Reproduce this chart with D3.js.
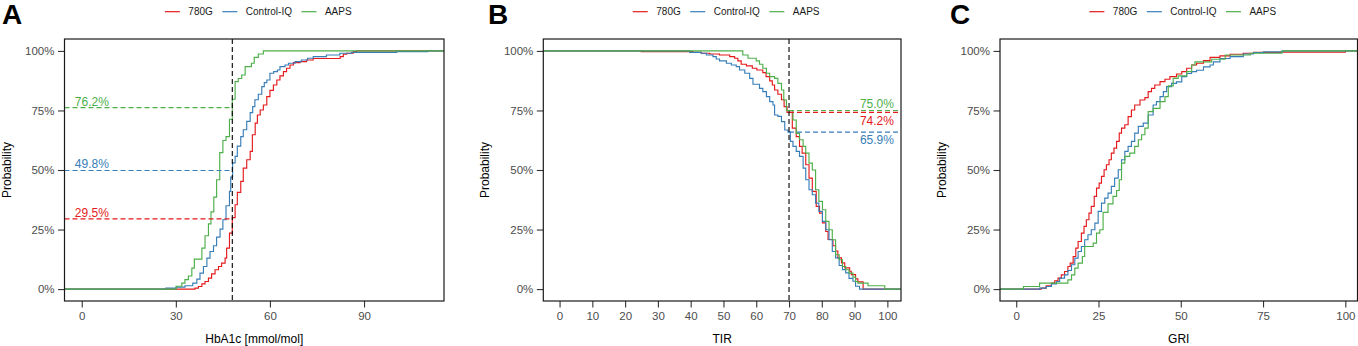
<!DOCTYPE html>
<html><head><meta charset="utf-8">
<script src="https://cdn.jsdelivr.net/npm/d3@7"></script>
<style>body{margin:0;background:#fff}svg{display:block}text{font-family:"Liberation Sans",Arial,sans-serif}</style>
</head><body><svg id="c" width="1358" height="346"></svg>
<script>
// ---------- data ----------
const groups = ["780G", "Control-IQ", "AAPS"];
const groupColors = ["#E41A1C", "#377EB8", "#4DAF4A"];

// Panel A: ECDF of HbA1c [mmol/mol]  ([x, cumulative probability])
const hba1c_780G = [[36.1,0.004],[37.2,0.011],[38.3,0.022],[39.3,0.032],[40.4,0.046],[41.4,0.064],[42.5,0.081],[43.6,0.095],[44.6,0.109],[45.7,0.13],[46.2,0.172],[47.1,0.235],[48,0.3],[48.9,0.354],[49.6,0.406],[50.7,0.452],[51.5,0.508],[52.6,0.543],[53.7,0.578],[54.4,0.648],[55.3,0.697],[56,0.731],[56.9,0.752],[57.9,0.773],[59,0.808],[60,0.834],[61.1,0.857],[62.2,0.878],[63.2,0.895],[64.3,0.913],[65.3,0.927],[66.4,0.941],[67.5,0.951],[69.6,0.955],[71.7,0.962],[73.8,0.968],[82.4,0.976],[83.4,0.986],[84.5,0.99],[86.6,0.997],[87.7,1.0]];
const hba1c_CIQ = [[26.8,0.004],[30.1,0.008],[32.9,0.014],[35.4,0.025],[36.7,0.042],[37.7,0.067],[38.8,0.095],[39.9,0.13],[40.9,0.158],[42,0.182],[43,0.218],[44.1,0.252],[45,0.291],[46,0.35],[47.1,0.41],[47.5,0.47],[48.1,0.53],[48.9,0.557],[49.6,0.6],[50.7,0.64],[51.5,0.669],[52.6,0.704],[53.7,0.741],[54.5,0.766],[55.2,0.795],[56.3,0.818],[57.4,0.85],[58.2,0.867],[59,0.878],[60,0.906],[61.2,0.913],[62.4,0.92],[63.2,0.934],[64.8,0.941],[65.9,0.948],[68,0.955],[70,0.962],[72,0.969],[73.8,0.976],[78,0.983],[82.3,0.99],[86,0.994],[100.4,0.997],[110.3,1.0]];
const hba1c_AAPS = [[30.1,0.012],[31.9,0.025],[32.9,0.04],[34,0.055],[35.1,0.088],[35.9,0.126],[38.3,0.172],[39.3,0.224],[40.4,0.274],[41.2,0.324],[42.1,0.386],[43,0.459],[44,0.573],[45,0.624],[46,0.64],[47.1,0.713],[48,0.797],[48.9,0.871],[49.9,0.884],[51,0.899],[52.1,0.934],[54.1,0.948],[55,0.973],[56.3,0.987],[57.9,1.0]];
const hba1c_cut = 48;
const hba1c_cutValues = [0.295, 0.498, 0.762];
const hba1c_cutLabels = ["29.5%", "49.8%", "76.2%"];

// Panel B: 1 - ECDF of TIR ([x, probability of TIR >= x])
const tir_780G = [[24.9,0.997],[40.7,0.994],[43.2,0.99],[45.8,0.987],[48.8,0.983],[51.9,0.976],[53.4,0.969],[54.4,0.958],[55.4,0.944],[57,0.937],[58.8,0.927],[60.2,0.92],[62,0.909],[63,0.892],[64.1,0.874],[64.9,0.857],[65.6,0.836],[66.6,0.818],[67.7,0.795],[68.5,0.766],[69.4,0.742],[71,0.676],[72.2,0.64],[73.2,0.599],[74,0.571],[75.1,0.522],[76.1,0.466],[77.1,0.41],[78.3,0.347],[79.3,0.319],[80.2,0.278],[81.2,0.242],[81.9,0.208],[83.4,0.182],[84.2,0.16],[84.9,0.131],[86,0.11],[87,0.089],[88.5,0.075],[89,0.061],[90.3,0.043],[91,0.03],[92.6,0]];
const tir_CIQ = [[39.7,0.994],[43.2,0.99],[44.8,0.983],[46.8,0.976],[47.8,0.966],[48.8,0.958],[50.9,0.948],[52.4,0.941],[53.9,0.934],[54.9,0.92],[56.5,0.906],[58,0.885],[59,0.86],[61,0.843],[62,0.829],[63.1,0.808],[64.1,0.787],[65.1,0.773],[65.6,0.731],[66.6,0.725],[67.7,0.703],[68.7,0.668],[69.7,0.659],[70.4,0.62],[71.2,0.599],[72.2,0.578],[73.2,0.557],[74.3,0.508],[75.1,0.459],[76.1,0.417],[77.1,0.396],[78.1,0.361],[79.1,0.326],[80.2,0.284],[81.2,0.249],[82.2,0.207],[83.2,0.158],[84.2,0.131],[85.3,0.099],[86.3,0.082],[87.3,0.068],[88.3,0.045],[89.5,0.033],[90.3,0.012],[91.5,0]];
const tir_AAPS = [[55.9,0.983],[57.5,0.969],[60,0.958],[61,0.944],[62,0.927],[63.1,0.906],[64.1,0.892],[65.6,0.885],[66.6,0.864],[67.7,0.836],[68.4,0.794],[69.2,0.75],[71.2,0.71],[72.2,0.654],[73.2,0.627],[74.3,0.599],[75.1,0.571],[76.1,0.529],[77.1,0.5],[78.1,0.417],[79.1,0.368],[80.2,0.333],[81.2,0.284],[82.2,0.249],[83.2,0.207],[84.2,0.144],[85.3,0.123],[86.3,0.095],[87.3,0.081],[88.3,0.067],[89.5,0.05],[90.3,0.032],[91,0.025],[94.1,0.014],[99.2,0]];
const tir_cut = 70;
const tir_cutValues = [0.742, 0.659, 0.750];
const tir_cutLabels = ["74.2%", "65.9%", "75.0%"];

// Panel C: ECDF of GRI
const gri_780G = [[7.6,0.004],[9.1,0.014],[10.7,0.025],[11.7,0.035],[12.7,0.046],[13.7,0.06],[14.7,0.074],[15.7,0.095],[16.4,0.109],[17.3,0.137],[18.1,0.172],[18.8,0.2],[19.8,0.235],[20.6,0.263],[21.3,0.291],[22.1,0.319],[22.8,0.347],[23.7,0.389],[24.4,0.424],[25.2,0.445],[25.9,0.473],[26.7,0.501],[27.4,0.522],[28.2,0.543],[28.9,0.571],[29.7,0.592],[30.5,0.62],[31.3,0.655],[32,0.676],[33,0.69],[34,0.724],[35,0.752],[36,0.773],[37.6,0.794],[39.1,0.804],[40.1,0.829],[41.1,0.843],[42.1,0.857],[43.7,0.871],[45.2,0.881],[46.7,0.892],[48.7,0.903],[50.3,0.913],[51.8,0.927],[53.3,0.941],[54.8,0.948],[56.9,0.959],[58.9,0.973],[61.9,0.979],[65,0.986],[69,0.99],[72.1,0.994],[80.2,0.995],[100,1.0]];
const gri_CIQ = [[7.1,0.004],[9.1,0.011],[10.7,0.022],[12.2,0.032],[13.2,0.046],[14.7,0.06],[15.7,0.078],[16.8,0.102],[17.8,0.13],[18.8,0.158],[19.8,0.179],[20.8,0.207],[21.8,0.228],[22.8,0.249],[23.9,0.277],[24.9,0.326],[25.9,0.361],[26.9,0.382],[27.9,0.403],[28.9,0.431],[29.9,0.466],[31,0.501],[32,0.543],[33,0.578],[34,0.599],[35,0.62],[36,0.655],[37.1,0.683],[38.6,0.697],[40.1,0.731],[41.6,0.773],[42.6,0.787],[43.7,0.808],[44.7,0.829],[45.7,0.85],[47.2,0.864],[48.7,0.87],[50.3,0.892],[51.8,0.905],[53.3,0.913],[54.8,0.919],[56.9,0.933],[58.9,0.941],[59.9,0.954],[61.9,0.968],[65,0.976],[69,0.987],[72.1,0.993],[75.1,0.996],[81,1.0]];
const gri_AAPS = [[2.2,0.011],[7.1,0.025],[15.7,0.039],[16.8,0.06],[17.8,0.088],[18.8,0.109],[20.1,0.137],[20.8,0.179],[23.4,0.193],[24.4,0.235],[25.4,0.249],[26.4,0.322],[27.9,0.358],[29.4,0.389],[30.5,0.414],[31.3,0.459],[32,0.529],[33,0.557],[34.5,0.571],[36,0.599],[37.1,0.627],[38.1,0.648],[39.1,0.676],[40.1,0.745],[41.6,0.759],[43.7,0.787],[45.2,0.808],[46.2,0.853],[47.7,0.885],[49.2,0.895],[51.8,0.913],[53.3,0.941],[54.3,0.954],[59.4,0.965],[63.5,0.983],[71.1,0.99],[80.7,1.0]];

// tick labels
const ticksA = [0, 30, 60, 90];
const ticksB = [0, 10, 20, 30, 40, 50, 60, 70, 80, 90, 100];
const ticksC = [0, 25, 50, 75, 100];
const yTicks = [0, 0.25, 0.5, 0.75, 1];
const panelLetters = ["A", "B", "C"];
const xTitles = ["HbA1c [mmol/mol]", "TIR", "GRI"];
const yTitle = "Probability";

// ---------- drawing ----------
const svg = d3.select("#c");
const plotTop = 39, plotBottom = 301;
const y = d3.scaleLinear().domain([-0.05, 1.05]).range([plotBottom, plotTop]);

const panels = [
  {letter: panelLetters[0], letterX: 2, left: 64.5, right: 444, xlim: [-5.5, 115.5], ticks: ticksA, title: xTitles[0],
   series: [hba1c_780G, hba1c_CIQ, hba1c_AAPS], start: 0},
  {letter: panelLetters[1], letterX: 488, left: 543.3, right: 901, xlim: [-4.96, 104.16], ticks: ticksB, title: xTitles[1],
   series: [tir_780G, tir_CIQ, tir_AAPS], start: 1},
  {letter: panelLetters[2], letterX: 950, left: 1000, right: 1357.5, xlim: [-4.93, 103.7], ticks: ticksC, title: xTitles[2],
   series: [gri_780G, gri_CIQ, gri_AAPS], start: 0}
];

panels.forEach((P, pi) => {
  const g = svg.append("g");
  const x = d3.scaleLinear().domain(P.xlim).range([P.left, P.right]);
  P.x = x;
  const clipId = "clip" + pi;
  svg.append("clipPath").attr("id", clipId).append("rect")
    .attr("x", P.left).attr("y", plotTop).attr("width", P.right - P.left).attr("height", plotBottom - plotTop);

  const plot = g.append("g").attr("clip-path", `url(#${clipId})`);
  const line = d3.line().x(d => x(d[0])).y(d => y(d[1])).curve(d3.curveStepAfter);
  P.series.forEach((s, si) => {
    const pts = [[P.xlim[0], P.start]].concat(s).concat([[P.xlim[1], s[s.length - 1][1]]]);
    plot.append("path").attr("d", line(pts)).attr("fill", "none")
      .attr("stroke", groupColors[si]).attr("stroke-width", 1.15);
  });
  P.plot = plot;

  // axes
  const xa = g.append("g").attr("transform", `translate(0,${plotBottom})`)
    .call(d3.axisBottom(x).tickValues(P.ticks).tickSize(6.5).tickPadding(4.5).tickFormat(d3.format("d")));
  const ya = g.append("g").attr("transform", `translate(${P.left},0)`)
    .call(d3.axisLeft(y).tickValues(yTicks).tickSize(6.5).tickPadding(3.5).tickFormat(d => Math.round(d * 100) + "%"));
  [xa, ya].forEach(a => {
    a.select(".domain").remove();
    a.selectAll("line").attr("stroke", "#333").attr("stroke-width", 1.1);
    a.selectAll("text").attr("fill", "#4D4D4D").style("font-size", "11.5px").style("font-family", '"Liberation Sans",Arial,sans-serif');
  });

  // frame
  g.append("rect").attr("x", P.left).attr("y", plotTop).attr("width", P.right - P.left).attr("height", plotBottom - plotTop)
    .attr("fill", "none").attr("stroke", "#1a1a1a").attr("stroke-width", 1.2);

  // titles
  const cx = (P.left + P.right) / 2;
  g.append("text").attr("x", cx).attr("y", 343).attr("text-anchor", "middle")
    .style("font-size", "12px").attr("fill", "#000").text(P.title);
  g.append("text").attr("transform", `translate(${P.left - 54},${(plotTop + plotBottom) / 2}) rotate(-90)`)
    .attr("text-anchor", "middle").style("font-size", "12px").attr("fill", "#000").text(yTitle);
  g.append("text").attr("x", P.letterX).attr("y", 24).style("font-size", "28px").style("font-weight", "bold")
    .attr("fill", "#000").text(P.letter);

  // legend
  const leg = g.append("g");
  let lx = 0;
  groups.forEach((name, i) => {
    leg.append("line").attr("x1", lx).attr("x2", lx + 15).attr("y1", 11.7).attr("y2", 11.7)
      .attr("stroke", groupColors[i]).attr("stroke-width", 1.2);
    const t = leg.append("text").attr("x", lx + 23.5).attr("y", 15.3).style("font-size", "10px")
      .attr("fill", "#1a1a1a").text(name);
    lx += 23.5 + t.node().getComputedTextLength() + 9.5;
  });
  const legW = lx - 9.5;
  leg.attr("transform", `translate(${cx + 4 - legW / 2},0)`);
});

// Panel A reference lines
{
  const P = panels[0], x = P.x;
  hba1c_cutValues.forEach((v, i) => {
    P.plot.append("line").attr("x1", P.left).attr("x2", x(hba1c_cut)).attr("y1", y(v)).attr("y2", y(v))
      .attr("stroke", groupColors[i]).attr("stroke-width", 1.1).attr("stroke-dasharray", "5,3");
    svg.append("text").attr("x", x(-2.2)).attr("y", y(v) - 2).style("font-size", "12px")
      .attr("fill", groupColors[i]).text(hba1c_cutLabels[i]);
  });
  P.plot.append("line").attr("x1", x(hba1c_cut)).attr("x2", x(hba1c_cut)).attr("y1", plotTop).attr("y2", plotBottom)
    .attr("stroke", "#000").attr("stroke-width", 1.1).attr("stroke-dasharray", "5,3");
}
// Panel B reference lines
{
  const P = panels[1], x = P.x;
  const offsets = [12.5, 11.7, -2.3];
  [1, 0, 2].forEach(i => {
    const v = tir_cutValues[i];
    P.plot.append("line").attr("x1", x(tir_cut)).attr("x2", P.right).attr("y1", y(v)).attr("y2", y(v))
      .attr("stroke", groupColors[i]).attr("stroke-width", 1.1).attr("stroke-dasharray", "5,3");
    svg.append("text").attr("x", x(102)).attr("y", y(v) + offsets[i]).attr("text-anchor", "end")
      .style("font-size", "12px").attr("fill", groupColors[i]).text(tir_cutLabels[i]);
  });
  P.plot.append("line").attr("x1", x(tir_cut)).attr("x2", x(tir_cut)).attr("y1", plotTop).attr("y2", plotBottom)
    .attr("stroke", "#000").attr("stroke-width", 1.1).attr("stroke-dasharray", "5,3");
}
</script></body></html>
